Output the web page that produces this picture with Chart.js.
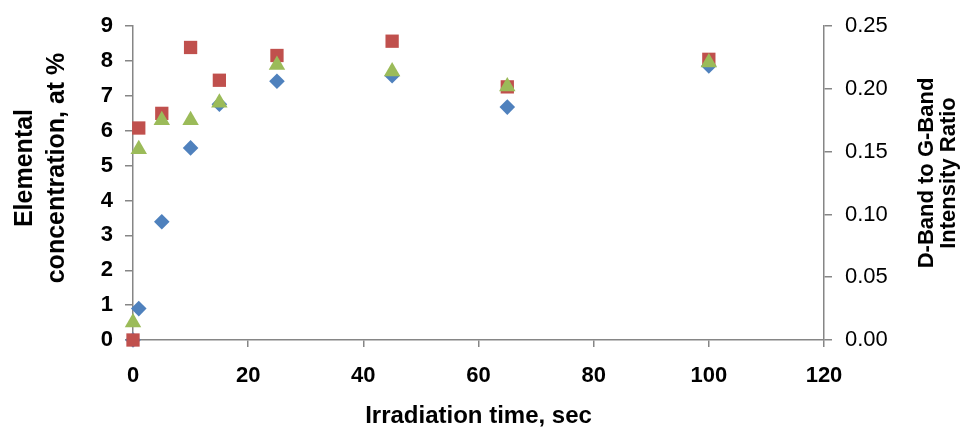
<!DOCTYPE html>
<html lang="en">
<head>
<meta charset="UTF-8">
<title>Elemental concentration vs irradiation time</title>
<script src="https://cdn.jsdelivr.net/npm/chart.js"></script>
<style>
  html, body { margin: 0; padding: 0; background: #fff; }
</style>
</head>
<body>
<canvas id="chart" width="961" height="431"></canvas>

<script>
// irradiation time, sec
const times = [0, 1, 5, 10, 15, 25, 45, 65, 100];
// elemental concentration, at % (left axis)
const blueSeries = [0, 0.90, 3.39, 5.51, 6.76, 7.42, 7.58, 6.68, 7.86];
const redSeries = [0, 6.08, 6.50, 8.39, 7.45, 8.16, 8.57, 7.26, 8.05];
// D-band to G-band intensity ratio (right axis)
const greenRatio = [0.014, 0.152, 0.175, 0.175, 0.189, 0.219, 0.214, 0.202, 0.221];

const xTicks = [0, 20, 40, 60, 80, 100, 120];
const leftTitle = ['Elemental', 'concentration, at %'];
const rightTitle = ['D-Band to G-Band', 'Intensity Ratio'];
const xTitle = 'Irradiation time, sec';

const axisGrey = '#868686';
const fontFamily = 'Arial, "Liberation Sans", sans-serif';

function points(ys) {
    return times.map((t, i) => ({ x: t, y: ys[i] }));
}

// rotated two-line titles for both y axes (right one reads bottom to top too)
const yTitles = {
    id: 'yTitles',
    afterDraw(chart) {
        const ctx = chart.ctx;
        ctx.save();
        ctx.fillStyle = '#000';
        ctx.textAlign = 'center';
        ctx.textBaseline = 'middle';

        ctx.font = 'bold 25px ' + fontFamily;
        ctx.save();
        ctx.translate(25, 168);
        ctx.rotate(-Math.PI / 2);
        ctx.fillText(leftTitle[0], 0, 0);
        ctx.fillText(leftTitle[1], 0, 32);
        ctx.restore();

        ctx.font = 'bold 22px ' + fontFamily;
        ctx.save();
        ctx.translate(927, 173);
        ctx.rotate(-Math.PI / 2);
        ctx.fillText(rightTitle[0], 0, 0);
        ctx.fillText(rightTitle[1], 0, 22);
        ctx.restore();

        ctx.restore();
    }
};

const ctx = document.getElementById('chart').getContext('2d');
new Chart(ctx, {
    type: 'scatter',
    data: {
        datasets: [
            {
                label: 'Ratio',
                data: points(greenRatio),
                yAxisID: 'y2',
                pointStyle: 'triangle',
                pointRadius: 9.5,
                backgroundColor: '#9BBB59',
                borderColor: '#9BBB59',
                borderWidth: 0,
                clip: false,
                order: 0
            },
            {
                label: 'Red',
                data: points(redSeries),
                yAxisID: 'y',
                pointStyle: 'rect',
                pointRadius: 9.4,
                backgroundColor: '#C0504D',
                borderColor: '#C0504D',
                borderWidth: 0,
                clip: false,
                order: 1
            },
            {
                label: 'Blue',
                data: points(blueSeries),
                yAxisID: 'y',
                pointStyle: 'rectRot',
                pointRadius: 7.8,
                backgroundColor: '#4F81BD',
                borderColor: '#4F81BD',
                borderWidth: 0,
                clip: false,
                order: 2
            }
        ]
    },
    options: {
        responsive: false,
        animation: false,
        layout: { padding: { top: 19, left: 0, right: 0, bottom: 0 } },
        plugins: {
            legend: { display: false },
            tooltip: { enabled: false }
        },
        scales: {
            x: {
                type: 'linear',
                min: 0,
                max: 120,
                afterBuildTicks: s => { s.ticks = xTicks.map(v => ({ value: v })); },
                afterFit: s => { s.height = 91; },
                ticks: {
                    color: '#000',
                    padding: 16,
                    font: { family: fontFamily, size: 22, weight: 'bold' }
                },
                grid: { drawOnChartArea: false, tickLength: 7, color: axisGrey, lineWidth: 1.5 },
                border: { color: axisGrey, width: 1.5 },
                title: {
                    display: true,
                    text: xTitle,
                    color: '#000',
                    padding: { top: 0, bottom: 0 },
                    font: { family: fontFamily, size: 24, weight: 'bold' }
                }
            },
            y: {
                position: 'left',
                min: 0,
                max: 9,
                afterFit: s => { s.width = 133; },
                ticks: {
                    stepSize: 1,
                    color: '#000',
                    padding: 12,
                    font: { family: fontFamily, size: 22, weight: 'bold' }
                },
                grid: { drawOnChartArea: false, tickLength: 8, color: axisGrey, lineWidth: 1.5 },
                border: { color: axisGrey, width: 1.5 }
            },
            y2: {
                position: 'right',
                min: 0,
                max: 0.25,
                afterFit: s => { s.width = 137; },
                ticks: {
                    stepSize: 0.05,
                    color: '#000',
                    padding: 13,
                    callback: v => v.toFixed(2),
                    font: { family: fontFamily, size: 22 }
                },
                grid: { drawOnChartArea: false, tickLength: 8, color: axisGrey, lineWidth: 1.5 },
                border: { color: axisGrey, width: 1.5 }
            }
        }
    },
    plugins: [yTitles]
});
</script>
</body>
</html>
